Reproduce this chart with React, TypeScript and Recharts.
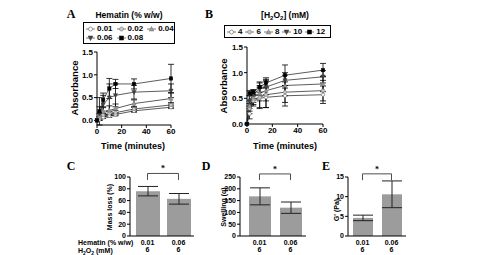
import React from 'react';
import { LineChart, Line, XAxis, YAxis, ErrorBar, BarChart, Bar, ReferenceLine } from 'recharts';

const FONT = '"Liberation Sans", Arial, Helvetica, sans-serif';
const SERIF = '"Liberation Serif", "Times New Roman", serif';

// ---------- Panel A : hematin series ----------
const timeA = [0, 2, 5, 10, 15, 30, 60];
const hematinLabels = ['0.01', '0.02', '0.04', '0.06', '0.08'];
const hem001 = [0, 0.02, 0.07, 0.1, 0.13, 0.21, 0.29];
const hem001Err = [0, 0.02, 0.03, 0.03, 0.03, 0.03, 0.03];
const hem002 = [0, 0.05, 0.12, 0.15, 0.17, 0.25, 0.34];
const hem002Err = [0, 0.03, 0.04, 0.04, 0.05, 0.05, 0.05];
const hem004 = [0, 0.1, 0.2, 0.22, 0.26, 0.37, 0.48];
const hem004Err = [0, 0.05, 0.08, 0.1, 0.1, 0.08, 0.12];
const hem006 = [0, 0.15, 0.35, 0.5, 0.55, 0.62, 0.65];
const hem006Err = [0, 0.15, 0.2, 0.3, 0.25, 0.15, 0.15];
const hem008 = [0, 0.2, 0.45, 0.7, 0.8, 0.8, 0.92];
const hem008Err = [0, 0.3, 0.15, 0.22, 0.1, 0.11, 0.31];

// ---------- Panel B : H2O2 series ----------
const timeB = [0, 2, 5, 10, 15, 30, 60];
const h2o2Labels = ['4', '6', '8', '10', '12'];
const hp4 = [0, 0.2, 0.45, 0.5, 0.52, 0.55, 0.57];
const hp4Err = [0, 0.1, 0.1, 0.2, 0.2, 0.2, 0.17];
const hp6 = [0, 0.3, 0.48, 0.52, 0.57, 0.62, 0.65];
const hp6Err = [0, 0.1, 0.1, 0.2, 0.25, 0.2, 0.2];
const hp8 = [0, 0.35, 0.52, 0.6, 0.65, 0.75, 0.78];
const hp8Err = [0, 0.1, 0.1, 0.15, 0.2, 0.2, 0.15];
const hp10 = [0, 0.45, 0.58, 0.68, 0.72, 0.85, 0.92];
const hp10Err = [0, 0.1, 0.08, 0.12, 0.15, 0.15, 0.12];
const hp12 = [0, 0.6, 0.62, 0.72, 0.8, 0.95, 1.05];
const hp12Err = [0, 0.05, 0.05, 0.1, 0.1, 0.2, 0.13];

// ---------- Panels C, D, E ----------
const barHematin = ['0.01', '0.06'];
const barH2O2 = ['6', '6'];
const massLoss = [76, 63];
const massLossErr = [8, 9];
const swelling = [168, 120];
const swellingErr = [36, 24];
const gPrime = [4.6, 10.6];
const gPrimeErr = [0.7, 3.4];

const massTicks = [0, 20, 40, 60, 80, 100];
const swellTicks = [0, 50, 100, 150, 200, 250];
const gTicks = [0, 5, 10, 15];
const absTicks = [0, 0.5, 1, 1.5];
const timeTicks = [0, 20, 40, 60];

type Style = { shape: string; fill: string; stroke: string };
const seriesStyles: Style[] = [
  { shape: 'circle', fill: '#ffffff', stroke: '#777' },
  { shape: 'circle', fill: '#c8c8c8', stroke: '#888' },
  { shape: 'triangle', fill: '#999', stroke: '#777' },
  { shape: 'triangleDown', fill: '#444', stroke: '#333' },
  { shape: 'square', fill: '#000', stroke: '#000' },
];

const rowsA = timeA.map((t, i) => ({
  t,
  s0: hem001[i], e0: hem001Err[i],
  s1: hem002[i], e1: hem002Err[i],
  s2: hem004[i], e2: hem004Err[i],
  s3: hem006[i], e3: hem006Err[i],
  s4: hem008[i], e4: hem008Err[i],
}));
const rowsB = timeB.map((t, i) => ({
  t,
  s0: hp4[i], e0: hp4Err[i],
  s1: hp6[i], e1: hp6Err[i],
  s2: hp8[i], e2: hp8Err[i],
  s3: hp10[i], e3: hp10Err[i],
  s4: hp12[i], e4: hp12Err[i],
}));
const barRows = (vals: number[], errs: number[]) =>
  barHematin.map((h, i) => ({ hem: h, h2o2: barH2O2[i], v: vals[i], e: errs[i] }));

function Marker({ cx, cy, st, r = 1.7 }: { cx: number; cy: number; st: Style; r?: number }) {
  if (cx == null || cy == null) return null;
  if (st.shape === 'circle')
    return <circle cx={cx} cy={cy} r={r} fill={st.fill} stroke={st.stroke} strokeWidth={0.7} />;
  if (st.shape === 'square')
    return <rect x={cx - r} y={cy - r} width={2 * r} height={2 * r} fill={st.fill} stroke={st.stroke} strokeWidth={0.5} />;
  if (st.shape === 'triangle')
    return <polygon points={`${cx},${cy - r - 0.6} ${cx - r - 0.4},${cy + r} ${cx + r + 0.4},${cy + r}`} fill={st.fill} stroke={st.stroke} strokeWidth={0.5} />;
  return <polygon points={`${cx},${cy + r + 0.6} ${cx - r - 0.4},${cy - r} ${cx + r + 0.4},${cy - r}`} fill={st.fill} stroke={st.stroke} strokeWidth={0.5} />;
}

const tickStyle = { fontSize: 8, fontWeight: 700, fill: '#000', fontFamily: FONT };
const barTickStyle = { fontSize: 7, fontWeight: 700, fill: '#000', fontFamily: FONT };

function Txt({ x, y, size, children, bold = true, rotate = false, family = FONT, anchor = 'center' }: any) {
  const tx = anchor === 'center' ? '-50%' : anchor === 'end' ? '-100%' : '0';
  return (
    <div
      style={{
        position: 'absolute', left: x, top: y, fontSize: size, fontWeight: bold ? 700 : 400,
        fontFamily: family, lineHeight: 1, whiteSpace: 'nowrap', color: '#000',
        transform: `translate(${tx}, -50%)${rotate ? ' rotate(-90deg)' : ''}`,
        transformOrigin: rotate ? '50% 50%' : undefined,
      }}
    >
      {children}
    </div>
  );
}

function LegendSym({ st }: { st: Style }) {
  return (
    <svg width={9} height={8} style={{ display: 'block' }}>
      <line x1={0} y1={4} x2={9} y2={4} stroke="#555" strokeWidth={0.8} />
      <Marker cx={4.5} cy={4} st={st} r={2} />
    </svg>
  );
}

function LegendBox({ left, top, width, rows, labels, gap }: any) {
  return (
    <div style={{ position: 'absolute', left, top, width, border: '1px solid #000', padding: '1px 2px', boxSizing: 'border-box' }}>
      {rows.map((row: number[], ri: number) => (
        <div key={ri} style={{ display: 'flex', alignItems: 'center', height: 9 }}>
          {row.map((si) => (
            <div key={si} style={{ display: 'flex', alignItems: 'center', marginRight: gap }}>
              <LegendSym st={seriesStyles[si]} />
              <span style={{ fontFamily: FONT, fontWeight: 700, fontSize: 8, marginLeft: 2, lineHeight: 1 }}>{labels[si]}</span>
            </div>
          ))}
        </div>
      ))}
    </div>
  );
}

function TimeChart({ rows, left, top, width, height, yWidth, mTop }: any) {
  return (
    <div style={{ position: 'absolute', left, top }}>
      <LineChart width={width} height={height} data={rows} margin={{ top: mTop, right: 6, bottom: 2, left: 0 }}>
        <XAxis
          type="number" dataKey="t" domain={[0, 60]} ticks={timeTicks} height={14} interval={0}
          tick={tickStyle} tickSize={3} tickMargin={0}
          axisLine={{ stroke: '#000', strokeWidth: 1 }} tickLine={{ stroke: '#000' }}
        />
        <YAxis
          type="number" domain={[0, 1.5]} ticks={absTicks} width={yWidth} interval={0}
          tick={tickStyle} tickSize={3} tickMargin={1} tickFormatter={(v: number) => v.toFixed(1)}
          axisLine={{ stroke: '#000', strokeWidth: 1 }} tickLine={{ stroke: '#000' }}
        />
        {[0, 1, 2, 3, 4].map((i) => (
          <Line
            key={i} dataKey={`s${i}`} stroke="#333" strokeWidth={0.8} isAnimationActive={false}
            dot={(p: any) => <Marker key={`m${i}-${p.index}`} cx={p.cx} cy={p.cy} st={seriesStyles[i]} />}
          >
            <ErrorBar dataKey={`e${i}`} direction="y" width={3} stroke="#000" strokeWidth={0.8} />
          </Line>
        ))}
      </LineChart>
    </div>
  );
}

function BarTick(props: any) {
  const { x, y, payload, index } = props;
  return (
    <g>
      <text x={x} y={y + 8.5} textAnchor="middle" style={barTickStyle as any}>{payload.value}</text>
      <text x={x} y={y + 16} textAnchor="middle" style={barTickStyle as any}>{barH2O2[index]}</text>
    </g>
  );
}

function BarPanel({ rows, left, top, width, yWidth, ticks, max, bracketY, bracketLow, barSize, padLeft }: any) {
  return (
    <div style={{ position: 'absolute', left, top }}>
      <BarChart width={width} height={95} data={rows} margin={{ top: 17, right: 4, bottom: 0, left: 0 }}>
        <XAxis
          dataKey="hem" height={19} interval={0} tick={<BarTick />} tickLine={false} tickSize={0} tickMargin={0}
          axisLine={{ stroke: '#000' }} padding={{ left: padLeft, right: 0 }}
        />
        <YAxis
          type="number" domain={[0, max]} ticks={ticks} width={yWidth} tick={barTickStyle} interval={0}
          tickSize={3} tickMargin={1} axisLine={{ stroke: '#000' }} tickLine={{ stroke: '#000' }}
        />
        <Bar dataKey="v" fill="#9c9c9c" barSize={barSize} isAnimationActive={false}>
          <ErrorBar dataKey="e" width={10} stroke="#222" strokeWidth={1} direction="y" />
        </Bar>
        <ReferenceLine
          segment={[{ x: barHematin[0], y: bracketY }, { x: barHematin[1], y: bracketY }]}
          ifOverflow="visible" stroke="#222" strokeWidth={0.8}
          label={{ value: '*', position: 'top', offset: 2, fontSize: 8, fontWeight: 700, fill: '#000' }}
        />
        <ReferenceLine segment={[{ x: barHematin[0], y: bracketY }, { x: barHematin[0], y: bracketLow }]} ifOverflow="visible" stroke="#222" strokeWidth={0.8} />
        <ReferenceLine segment={[{ x: barHematin[1], y: bracketY }, { x: barHematin[1], y: bracketLow }]} ifOverflow="visible" stroke="#222" strokeWidth={0.8} />
      </BarChart>
    </div>
  );
}

export default function App() {
  return (
    <div style={{ position: 'absolute', left: 0, top: 0, width: 477, height: 255, background: '#fff', overflow: 'hidden' }}>
      {/* Panel A */}
      <Txt x={71} y={14} size={12} family={SERIF}>A</Txt>
      <Txt x={129} y={15} size={8.5}>Hematin (% w/w)</Txt>
      <LegendBox left={83} top={22} width={92} rows={[[0, 1, 2], [3, 4]]} labels={hematinLabels} gap={4} />
      <TimeChart rows={rowsA} left={55} top={44} width={122} height={97} yWidth={42} mTop={8} />
      <Txt x={75} y={88} size={9.5} rotate>Absorbance</Txt>
      <Txt x={133} y={146} size={9}>Time (minutes)</Txt>

      {/* Panel B */}
      <Txt x={209} y={14} size={12} family={SERIF}>B</Txt>
      <Txt x={285} y={16} size={8.5}>[H<sub style={{ fontSize: 6 }}>2</sub>O<sub style={{ fontSize: 6 }}>2</sub>] (mM)</Txt>
      <LegendBox left={224} top={25} width={107} rows={[[0, 1, 2, 3, 4]]} labels={h2o2Labels} gap={3} />
      <TimeChart rows={rowsB} left={200} top={40} width={129} height={100} yWidth={47} mTop={7} />
      <Txt x={224} y={86} size={9.5} rotate>Absorbance</Txt>
      <Txt x={285} y={146} size={9}>Time (minutes)</Txt>

      {/* Panel C */}
      <Txt x={71} y={166} size={12} family={SERIF}>C</Txt>
      <BarPanel rows={barRows(massLoss, massLossErr)} left={95} top={160} width={103} yWidth={35}
        ticks={massTicks} max={100} bracketY={106} bracketLow={95} barSize={24} padLeft={2} />
      <Txt x={109} y={207} size={7} rotate>Mass loss  (%)</Txt>
      <Txt x={78} y={242} size={7} anchor="start">Hematin (% w/w)</Txt>
      <Txt x={78} y={249.5} size={7} anchor="start">H<sub style={{ fontSize: 5, lineHeight: 0 }}>2</sub>O<sub style={{ fontSize: 5, lineHeight: 0 }}>2</sub>  (mM)</Txt>

      {/* Panel D */}
      <Txt x={206} y={166} size={12} family={SERIF}>D</Txt>
      <BarPanel rows={barRows(swelling, swellingErr)} left={215} top={160} width={95} yWidth={25}
        ticks={swellTicks} max={250} bracketY={263} bracketLow={237} barSize={22} padLeft={4} />
      <Txt x={223} y={207} size={7} rotate>Swelling (q)</Txt>

      {/* Panel E */}
      <Txt x={326} y={166} size={12} family={SERIF}>E</Txt>
      <BarPanel rows={barRows(gPrime, gPrimeErr)} left={323} top={160} width={87} yWidth={25}
        ticks={gTicks} max={15} bracketY={15.8} bracketLow={14.2} barSize={20} padLeft={0} />
      <Txt x={336} y={210} size={7} rotate>G' (Pa)</Txt>
    </div>
  );
}
